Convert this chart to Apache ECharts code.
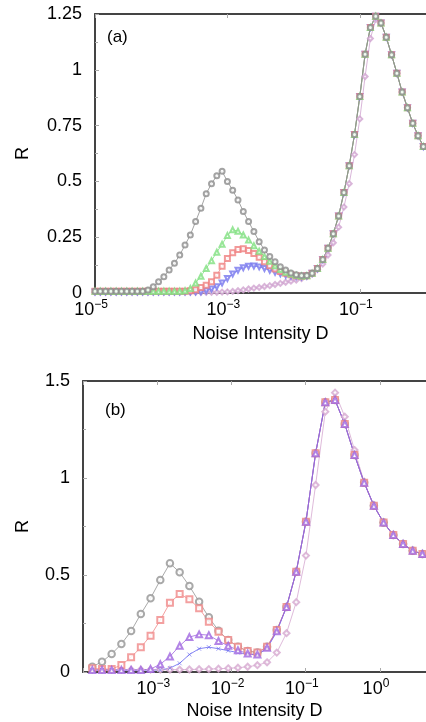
<!DOCTYPE html>
<html>
<head>
<meta charset="utf-8">
<script src="https://cdn.jsdelivr.net/npm/echarts@6/dist/echarts.min.js"></script>
<style>
  html, body { margin: 0; padding: 0; background: #fff; }
  #chart { width: 426px; height: 722px; }
</style>
</head>
<body>
<div id="chart"></div>
<script>
// Panel (a): log10 of the noise intensity D
const logDA = [-5.00, -4.92, -4.84, -4.76, -4.68, -4.60, -4.52, -4.44, -4.36, -4.28,
  -4.20, -4.12, -4.04, -3.96, -3.88, -3.80, -3.72, -3.64, -3.56, -3.48,
  -3.40, -3.32, -3.24, -3.16, -3.08, -3.00, -2.92, -2.84, -2.76, -2.68,
  -2.60, -2.52, -2.44, -2.36, -2.28, -2.20, -2.12, -2.04, -1.96, -1.88,
  -1.80, -1.72, -1.64, -1.56, -1.48, -1.40, -1.32, -1.24, -1.16, -1.08,
  -1.00, -0.92, -0.84, -0.76, -0.68, -0.60, -0.52, -0.44, -0.36, -0.28,
  -0.20, -0.12, -0.04];

const grayA = [0.008, 0.008, 0.008, 0.008, 0.008, 0.008, 0.008, 0.008, 0.008, 0.008,
  0.013, 0.028, 0.05, 0.073, 0.103, 0.133, 0.17, 0.215, 0.26, 0.32,
  0.38, 0.445, 0.49, 0.525, 0.545, 0.50, 0.46, 0.417, 0.365, 0.32,
  0.275, 0.23, 0.193, 0.163, 0.14, 0.118, 0.103, 0.09, 0.082, 0.078,
  0.078, 0.088, 0.11, 0.15, 0.2, 0.265, 0.345, 0.45, 0.57, 0.71,
  0.88, 1.07, 1.19, 1.24, 1.21, 1.146, 1.067, 0.985, 0.90, 0.83,
  0.76, 0.705, 0.656];
const greenA = [0.008, 0.008, 0.008, 0.008, 0.008, 0.008, 0.008, 0.008, 0.008, 0.008,
  0.008, 0.008, 0.008, 0.008, 0.008, 0.008, 0.008, 0.01, 0.02, 0.045,
  0.075, 0.11, 0.145, 0.183, 0.218, 0.258, 0.283, 0.277, 0.26, 0.237,
  0.212, 0.187, 0.163, 0.142, 0.122, 0.105, 0.093, 0.085, 0.079, 0.076,
  0.077, 0.088, 0.11, 0.15, 0.2, 0.265, 0.345, 0.45, 0.57, 0.71,
  0.88, 1.07, 1.19, 1.24, 1.21, 1.146, 1.067, 0.985, 0.90, 0.83,
  0.76, 0.705, 0.656];
const redA = [0.008, 0.008, 0.008, 0.008, 0.008, 0.008, 0.008, 0.008, 0.008, 0.008,
  0.008, 0.008, 0.008, 0.008, 0.008, 0.008, 0.008, 0.008, 0.01, 0.015,
  0.025, 0.035, 0.05, 0.08, 0.12, 0.155, 0.18, 0.195, 0.198, 0.19,
  0.177, 0.16, 0.14, 0.122, 0.107, 0.096, 0.088, 0.082, 0.077, 0.075,
  0.077, 0.088, 0.11, 0.15, 0.2, 0.265, 0.345, 0.45, 0.57, 0.71,
  0.88, 1.07, 1.19, 1.24, 1.21, 1.146, 1.067, 0.985, 0.90, 0.83,
  0.76, 0.705, 0.656];
const blueA = [0.005, 0.005, 0.005, 0.005, 0.005, 0.005, 0.005, 0.005, 0.005, 0.005,
  0.005, 0.005, 0.005, 0.005, 0.005, 0.005, 0.005, 0.005, 0.005, 0.005,
  0.005, 0.01, 0.018, 0.028, 0.045, 0.065, 0.085, 0.102, 0.113, 0.12,
  0.121, 0.117, 0.11, 0.102, 0.093, 0.086, 0.08, 0.076, 0.074, 0.073,
  0.076, 0.088, 0.11, 0.15, 0.2, 0.265, 0.345, 0.45, 0.57, 0.71,
  0.88, 1.07, 1.19, 1.24, 1.21, 1.146, 1.067, 0.985, 0.90, 0.83,
  0.76, 0.705, 0.656];
const pinkA = [0.003, 0.003, 0.003, 0.003, 0.003, 0.003, 0.003, 0.003, 0.003, 0.003,
  0.003, 0.003, 0.003, 0.003, 0.003, 0.003, 0.003, 0.003, 0.003, 0.003,
  0.003, 0.003, 0.003, 0.003, 0.004, 0.005, 0.007, 0.01, 0.014, 0.018,
  0.022, 0.025, 0.029, 0.033, 0.038, 0.043, 0.048, 0.053, 0.058, 0.065,
  0.074, 0.085, 0.105, 0.13, 0.17, 0.225, 0.295, 0.385, 0.49, 0.62,
  0.78, 0.97, 1.14, 1.225, 1.21, 1.146, 1.067, 0.985, 0.90, 0.83,
  0.76, 0.705, 0.656];

// Panel (b): log10 of the noise intensity D
const logDB = [-3.875, -3.744, -3.614, -3.483, -3.352, -3.221, -3.090, -2.959, -2.829, -2.698,
  -2.567, -2.436, -2.305, -2.175, -2.044, -1.913, -1.782, -1.651, -1.521, -1.390,
  -1.259, -1.128, -0.997, -0.867, -0.736, -0.605, -0.474, -0.343, -0.213, -0.082,
  0.049, 0.180, 0.311, 0.441, 0.572];

const grayB = [0.027, 0.053, 0.093, 0.144, 0.211, 0.299, 0.38, 0.474, 0.56, 0.514,
  0.443, 0.362, 0.282, 0.213, 0.165, 0.13, 0.108, 0.101, 0.13, 0.216,
  0.335, 0.517, 0.775, 1.127, 1.39, 1.402, 1.278, 1.119, 0.976, 0.857,
  0.77, 0.706, 0.66, 0.625, 0.608];
const redB = [0.019, 0.015, 0.015, 0.036, 0.076, 0.127, 0.187, 0.268, 0.357, 0.402,
  0.375, 0.328, 0.259, 0.208, 0.165, 0.13, 0.108, 0.1, 0.13, 0.216,
  0.335, 0.517, 0.775, 1.127, 1.39, 1.402, 1.278, 1.119, 0.976, 0.857,
  0.77, 0.706, 0.66, 0.625, 0.608];
const purpleB = [0.01, 0.01, 0.01, 0.01, 0.01, 0.01, 0.015, 0.04, 0.08, 0.135,
  0.18, 0.194, 0.19, 0.16, 0.135, 0.112, 0.095, 0.09, 0.125, 0.21,
  0.335, 0.517, 0.775, 1.127, 1.39, 1.402, 1.278, 1.119, 0.976, 0.857,
  0.77, 0.706, 0.66, 0.625, 0.608];
const blueB = [0.01, 0.01, 0.01, 0.01, 0.01, 0.01, 0.01, 0.01, 0.02, 0.045,
  0.09, 0.12, 0.128, 0.12, 0.11, 0.1, 0.092, 0.088, 0.122, 0.208,
  0.335, 0.517, 0.775, 1.127, 1.39, 1.402, 1.278, 1.119, 0.976, 0.857,
  0.77, 0.706, 0.66, 0.625, 0.608];
const pinkB = [0.012, 0.012, 0.012, 0.012, 0.012, 0.012, 0.012, 0.012, 0.012, 0.012,
  0.013, 0.014, 0.015, 0.017, 0.019, 0.022, 0.027, 0.035, 0.05, 0.1,
  0.2, 0.36, 0.6, 0.964, 1.342, 1.44, 1.316, 1.144, 0.98, 0.857,
  0.77, 0.706, 0.66, 0.625, 0.608];

// Axis ticks
const ticksXA = [-5, -3, -1];
const ticksXB = [-3, -2, -1, 0];
const ticksXBAll = [-4, -3, -2, -1, 0];

const FONT = "'Liberation Sans', Arial, Helvetica, sans-serif";
const AXIS_COLOR = '#444';
const TICK_COLOR = '#aaa';

const pairs = (xs, ys) => xs.map((x, i) => [x, ys[i]]);

// "10^n" tick label with a raised exponent
const powLabel = v => '{b|10}{s|' + (v < 0 ? '\u2212' : '') + Math.abs(v) + '}';
const powRich = {
  b: { fontSize: 18, fontFamily: FONT, color: '#000', lineHeight: 22 },
  s: { fontSize: 12, fontFamily: FONT, color: '#000', lineHeight: 13, verticalAlign: 'top', padding: [0, 8, 0, 0] }
};

function xAxes(grid, min, max, labelVals, tickVals, gap) {
  return [
    {
      type: 'value', gridIndex: grid, min: min, max: max, position: 'bottom',
      axisLine: { show: true, onZero: false, lineStyle: { color: AXIS_COLOR, width: 2 } },
      axisTick: { show: true, inside: true, length: 4, customValues: tickVals, lineStyle: { color: TICK_COLOR } },
      axisLabel: { customValues: labelVals, formatter: powLabel, rich: powRich, margin: 6, showMinLabel: true, showMaxLabel: true },
      splitLine: { show: false },
      name: 'Noise Intensity D', nameLocation: 'middle', nameGap: gap,
      nameTextStyle: { fontSize: 18, fontFamily: FONT, color: '#000' }
    },
    {
      type: 'value', gridIndex: grid, min: min, max: max, position: 'top',
      axisLine: { show: true, onZero: false, lineStyle: { color: AXIS_COLOR, width: 2 } },
      axisTick: { show: true, inside: true, length: 4, customValues: tickVals, lineStyle: { color: TICK_COLOR } },
      axisLabel: { show: false },
      splitLine: { show: false }
    }
  ];
}

function yAxis(grid, max, interval, gap) {
  return {
    type: 'value', gridIndex: grid, min: 0, max: max, interval: interval,
    axisLine: { show: true, onZero: false, lineStyle: { color: AXIS_COLOR, width: 2 } },
    axisTick: { show: true, inside: true, length: 4, lineStyle: { color: TICK_COLOR } },
    minorTick: { show: true, splitNumber: 2, length: 3, lineStyle: { color: TICK_COLOR } },
    axisLabel: { fontSize: 18, fontFamily: FONT, color: '#000', margin: 13 },
    splitLine: { show: false },
    name: 'R', nameLocation: 'middle', nameGap: gap, nameRotate: 90,
    nameTextStyle: { fontSize: 18, fontFamily: FONT, color: '#000' }
  };
}

function line(xi, yi, xs, ys, color, symbol, size, extra) {
  return Object.assign({
    type: 'line', xAxisIndex: xi, yAxisIndex: yi,
    data: pairs(xs, ys),
    symbol: symbol, symbolSize: size, showAllSymbol: true,
    lineStyle: { color: color, width: 0.8 },
    itemStyle: { color: color, borderColor: color, borderWidth: 0.6, opacity: 0.8 },
    emphasis: { disabled: true },
    clip: true
  }, extra || {});
}

const crossPath = 'path://M0,0L10,10M10,0L0,10';

const chart = echarts.init(document.getElementById('chart'), null, { renderer: 'canvas' });
chart.setOption({
  animation: false,
  backgroundColor: '#fff',
  grid: [
    { left: 95, top: 14, width: 331, height: 279 },
    { left: 83, top: 381, width: 343, height: 291 }
  ],
  xAxis: [].concat(
    xAxes(0, -5, 0, ticksXA, ticksXA, 32),
    xAxes(1, -4, 0.62, ticksXB, ticksXBAll, 30)
  ),
  yAxis: [yAxis(0, 1.25, 0.25, 63), yAxis(1, 1.5, 0.5, 51)],
  graphic: [
    { type: 'text', left: 107, top: 29, style: { text: '(a)', fontSize: 17, fontFamily: FONT, fill: '#000' } },
    { type: 'text', left: 105, top: 402, style: { text: '(b)', fontSize: 17, fontFamily: FONT, fill: '#000' } }
  ],
  series: [
    line(0, 0, logDA, pinkA, '#cfa3cf', 'emptyDiamond', 5),
    line(0, 0, logDA, blueA, '#7777ee', 'emptyTriangle', 5, { symbolRotate: 180 }),
    line(0, 0, logDA, redA, '#ef8080', 'emptyRect', 5),
    line(0, 0, logDA, greenA, '#80e080', 'emptyTriangle', 5),
    line(0, 0, logDA, grayA, '#8c8c8c', 'emptyCircle', 5),

    line(2, 1, logDB, pinkB, '#d6a8d0', 'emptyDiamond', 6),
    line(2, 1, logDB, grayB, '#939393', 'emptyCircle', 6.5),
    line(2, 1, logDB, redB, '#f08888', 'emptyRect', 6),
    line(2, 1, logDB, blueB, '#6464f0', crossPath, 4, { itemStyle: { color: 'transparent', borderColor: '#6464f0', borderWidth: 0.8, opacity: 0.8 } }),
    line(2, 1, logDB, purpleB, '#a066e0', 'emptyTriangle', 6)
  ]
});
</script>
</body>
</html>
